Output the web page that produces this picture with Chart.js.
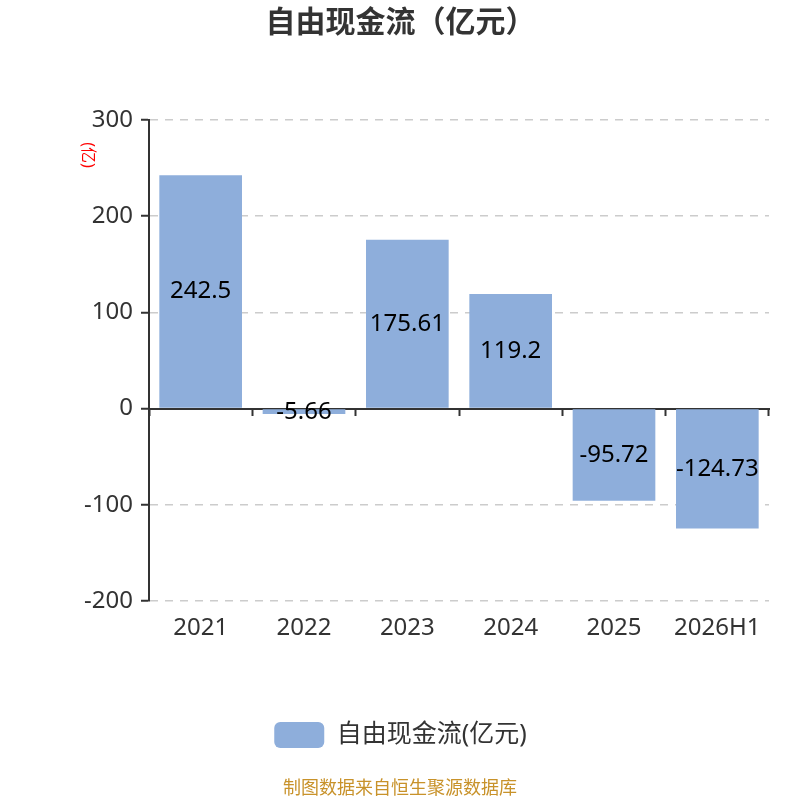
<!DOCTYPE html>
<html lang="zh">
<head>
<meta charset="UTF-8" />
<title>自由现金流（亿元）</title>
<style>
  body { margin: 0; background: #fff; }
  #wrap { width: 800px; height: 800px; position: relative; }
</style>
</head>
<body>
<div id="wrap"><canvas id="chart" width="800" height="800"></canvas></div>
<script src="https://cdn.jsdelivr.net/npm/chart.js"></script>
<script>
  const years = ['2021', '2022', '2023', '2024', '2025', '2026H1'];
  const fcf = [242.5, -5.66, 175.61, 119.2, -95.72, -124.73];
  const yTicks = [-200, -100, 0, 100, 200, 300];

  const FONT = "'Noto Sans', 'Noto Sans CJK SC', sans-serif";
  const BAR = '#8eaedb';

  // value labels in the middle of each bar
  const barLabels = {
    id: 'barLabels',
    afterDatasetsDraw(chart) {
      const ctx = chart.ctx;
      const meta = chart.getDatasetMeta(0);
      ctx.save();
      ctx.font = '24px ' + FONT;
      ctx.fillStyle = '#000';
      ctx.textAlign = 'center';
      ctx.textBaseline = 'middle';
      meta.data.forEach((bar, i) => {
        const { x, y, base } = bar.getProps(['x', 'y', 'base'], true);
        ctx.fillText(String(fcf[i]), x, (y + base) / 2);
      });
      ctx.restore();
    }
  };

  // unit label and source line
  const extras = {
    id: 'extras',
    afterDraw(chart) {
      const ctx = chart.ctx;
      const area = chart.chartArea;
      ctx.save();
      ctx.fillStyle = '#ff0000';
      ctx.font = '16px ' + FONT;
      ctx.textAlign = 'center';
      ctx.textBaseline = 'middle';
      ctx.translate(area.left - 61, area.top + 35);
      ctx.rotate(Math.PI / 2);
      ctx.fillText('(亿)', 0, 0);
      ctx.restore();

      ctx.save();
      ctx.fillStyle = '#c8922a';
      ctx.font = '18px ' + FONT;
      ctx.textAlign = 'center';
      ctx.textBaseline = 'middle';
      ctx.fillText('制图数据来自恒生聚源数据库', 400, 789);
      ctx.restore();
    }
  };

  new Chart(document.getElementById('chart'), {
    type: 'bar',
    data: {
      labels: years,
      datasets: [{
        label: '自由现金流(亿元)',
        data: fcf,
        backgroundColor: BAR,
        borderWidth: 0,
        categoryPercentage: 0.8,
        barPercentage: 1.0
      }]
    },
    plugins: [barLabels, extras],
    options: {
      responsive: false,
      animation: false,
      devicePixelRatio: 1,
      layout: { padding: { left: 32, right: 31, top: 0, bottom: 42 } },
      plugins: {
        title: {
          display: true,
          text: '自由现金流（亿元）',
          color: '#333',
          font: { family: FONT, size: 30, weight: 'bold' },
          padding: { top: 5, bottom: 79 }
        },
        legend: {
          position: 'bottom',
          labels: {
            color: '#333',
            font: { family: FONT, size: 25 },
            boxWidth: 50,
            boxHeight: 26,
            useBorderRadius: true,
            borderRadius: 6,
            padding: 10
          }
        },
        tooltip: { enabled: false }
      },
      scales: {
        x: {
          position: 'bottom',
          grid: { display: false },
          border: { display: false },
          ticks: { color: '#333', font: { family: FONT, size: 24 }, padding: 5 },
          afterFit(scale) { scale.height = 111; }
        },
        x0: {
          type: 'category',
          position: { y: 0 },
          offset: true,
          grid: { offset: true, drawOnChartArea: false, drawTicks: true, tickLength: 6, color: '#333', tickWidth: 2, tickBorderDash: [] },
          border: { display: true, color: '#333', width: 2 },
          ticks: { display: false }
        },
        y: {
          min: yTicks[0],
          max: yTicks[yTicks.length - 1],
          afterBuildTicks(scale) { scale.ticks = yTicks.map(v => ({ value: v })); },
          afterFit(scale) { scale.width = 117; },
          ticks: { color: '#333', font: { family: FONT, size: 24 }, padding: 8 },
          grid: { color: '#cccccc', lineWidth: 1.5, tickLength: 8, tickColor: '#333', tickWidth: 2, tickBorderDash: [] },
          border: { display: true, color: '#333', width: 2, dash: [8, 7] }
        }
      }
    }
  });
</script>
</body>
</html>
